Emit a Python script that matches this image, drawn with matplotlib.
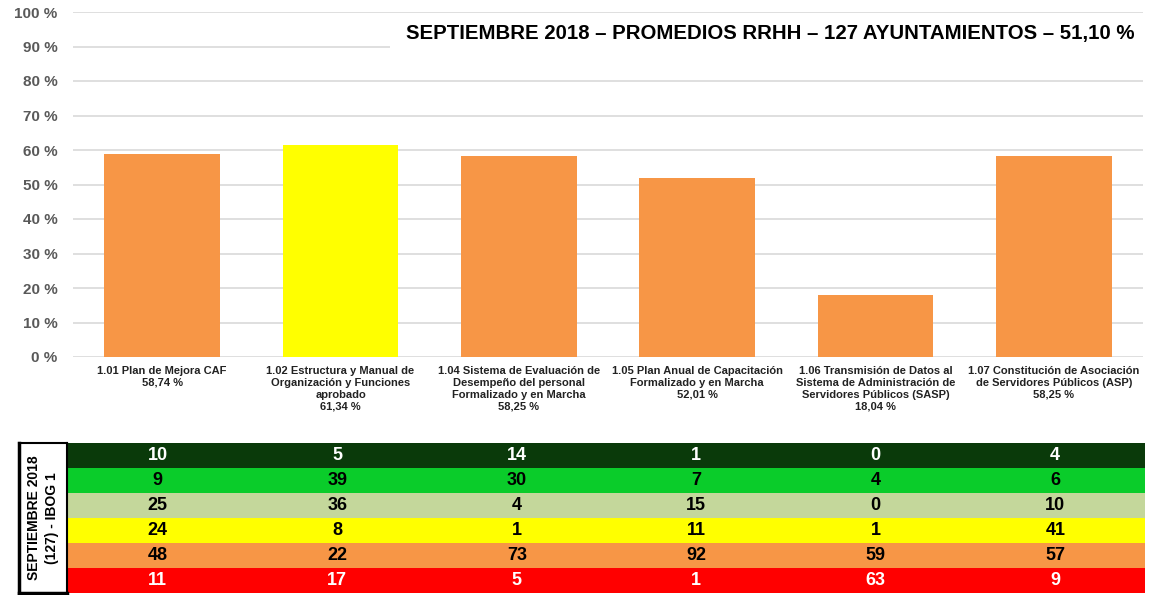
import matplotlib.pyplot as plt
import numpy as np

# === Data ===
categories = [
    "1.01 Plan de Mejora CAF",
    "1.02 Estructura y Manual de\nOrganización y Funciones\naprobado",
    "1.04 Sistema de Evaluación de\nDesempeño del personal\nFormalizado y en Marcha",
    "1.05 Plan Anual de Capacitación\nFormalizado y en Marcha",
    "1.06 Transmisión de Datos al\nSistema de Administración de\nServidores Públicos (SASP)",
    "1.07 Constitución de Asociación\nde Servidores Públicos (ASP)",
]
values = [58.74, 61.34, 58.25, 52.01, 18.04, 58.25]
value_labels = ["58,74 %", "61,34 %", "58,25 %", "52,01 %", "18,04 %", "58,25 %"]
bar_colors = ["#F79646", "#FFFF00", "#F79646", "#F79646", "#F79646", "#F79646"]

table_rows = [
    [10, 5, 14, 1, 0, 4],
    [9, 39, 30, 7, 4, 6],
    [25, 36, 4, 15, 0, 10],
    [24, 8, 1, 11, 1, 41],
    [48, 22, 73, 92, 59, 57],
    [11, 17, 5, 1, 63, 9],
]
row_colors = ["#0A3A0A", "#0ACC2A", "#C4D79B", "#FFFF00", "#F79646", "#FF0000"]
row_text = ["white", "black", "black", "black", "black", "white"]

title = "SEPTIEMBRE 2018 – PROMEDIOS RRHH – 127 AYUNTAMIENTOS – 51,10 %"
side_label = "SEPTIEMBRE 2018\n(127) - IBOG 1"

plt.rcParams['font.family'] = ['Liberation Sans', 'DejaVu Sans']

W, H = 1150, 595
fig = plt.figure(figsize=(W / 100, H / 100), dpi=100)

# === Bar chart ===
ax = fig.add_axes([73 / W, 1 - 357 / H, (1143 - 73) / W, (357 - 12) / H])
x = np.arange(len(categories))
ax.bar(x, values, width=0.65, color=bar_colors, zorder=3)
ax.set_xlim(-0.5, len(categories) - 0.5)
ax.set_ylim(0, 100)
ax.set_yticks(np.arange(0, 101, 10))
ax.set_yticklabels([f"{v} %" for v in range(0, 101, 10)], fontsize=11,
                   fontweight='bold', color='#595959')
ax.yaxis.grid(True, color='#D9D9D9', linewidth=1.2, zorder=0)
ax.tick_params(axis='y', length=0, pad=11)
ax.tick_params(axis='x', length=0)
ax.set_xticks([])
for s in ax.spines.values():
    s.set_visible(False)

for i, (c, v) in enumerate(zip(categories, value_labels)):
    ax.text(i, -2.5, c + "\n" + v, ha='center', va='top', fontsize=8,
            fontweight='bold', linespacing=1.25, color='#222222')

# white box behind the title hides part of the grid
fig.patches.append(plt.Rectangle((390 / W, 1 - 62 / H), (1150 - 390) / W, 42 / H,
                                 transform=fig.transFigure, facecolor='white',
                                 edgecolor='none', zorder=4))
fig.text(1134 / W, 1 - 33 / H, title, ha='right', va='center', fontsize=14.7,
         fontweight='bold', color='black', zorder=5)

# === Table ===
tax = fig.add_axes([68 / W, 1 - 593 / H, (1145 - 68) / W, (593 - 443) / H])
nrows = len(table_rows)
for r, (row, col, tc) in enumerate(zip(table_rows, row_colors, row_text)):
    tax.barh(r, len(categories), left=-0.5, height=1, color=col, edgecolor='none')
    for i, val in enumerate(row):
        tax.text(i, r, str(val), ha='center', va='center', fontsize=13,
                 fontweight='bold', color=tc)
tax.set_xlim(-0.5, len(categories) - 0.5)
tax.set_ylim(nrows - 0.5, -0.5)
tax.axis('off')

lax = fig.add_axes([19 / W, 1 - 593 / H, (67 - 19) / W, (593 - 443) / H])
lax.set_xticks([])
lax.set_yticks([])
for s in lax.spines.values():
    s.set_linewidth(1.5)
lax.spines['left'].set_linewidth(2.5)
lax.spines['bottom'].set_linewidth(2.5)
lax.text(0.5, 0.5, side_label, rotation=90, ha='center', va='center',
         fontsize=10, fontweight='bold', linespacing=1.3, transform=lax.transAxes)

fig.savefig("out.png", dpi=100)
